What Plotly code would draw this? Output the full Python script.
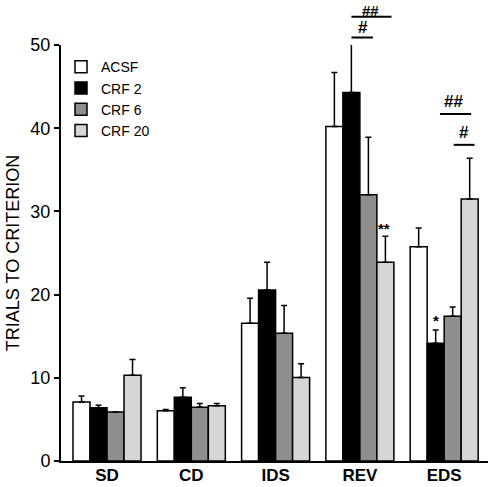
import plotly.graph_objects as go

categories = ["SD", "CD", "IDS", "REV", "EDS"]
series_names = ["ACSF", "CRF 2", "CRF 6", "CRF 20"]
acsf = [7.1, 6.05, 16.55, 40.2, 25.75]
acsf_err = [0.7, 0.15, 3.0, 6.5, 2.25]
crf2 = [6.4, 7.65, 20.55, 44.3, 14.15]
crf2_err = [0.3, 1.15, 3.35, 5.8, 1.6]
crf6 = [5.9, 6.45, 15.35, 32.0, 17.4]
crf6_err = [0.0, 0.45, 3.35, 6.9, 1.1]
crf20 = [10.3, 6.65, 10.05, 23.9, 31.5]
crf20_err = [1.9, 0.25, 1.65, 3.1, 4.9]
colors = ["#ffffff", "#000000", "#8e8e8e", "#d6d6d6"]

values = [acsf, crf2, crf6, crf20]
errors = [acsf_err, crf2_err, crf6_err, crf20_err]

# significance markers: (x0, x1 in category units, y in data units)
sig_lines = [
    (2.9, 3.375, 53.4),
    (2.9, 3.155, 50.9),
    (3.95, 4.32, 41.7),
    (4.113, 4.36, 38.0),
]
# (label, x, y, font size, y anchor)
sig_texts = [
    ("##", 3.125, 55.35, 15, "top"),
    ("#", 3.04, 52.1, 17, "middle"),
    ("##", 4.105, 43.2, 17, "middle"),
    ("#", 4.23, 39.5, 17, "middle"),
    ("**", 3.285, 27.9, 15, "middle"),
    ("*", 3.9, 16.9, 15, "middle"),
]

XMIN, XMAX = -0.546, 4.52
YMAX = 50

fig = go.Figure()
for name, v, e, c in zip(series_names, values, errors, colors):
    fig.add_trace(go.Bar(
        x=list(range(len(categories))), y=v, name=name,
        marker=dict(color=c, line=dict(color="black", width=1.5)),
        error_y=dict(type="data", array=e, arrayminus=[0] * len(e), symmetric=False,
                     color="black", thickness=1.5, width=3),
    ))

def px_(x):
    return (x - XMIN) / (XMAX - XMIN)

for x0, x1, y in sig_lines:
    fig.add_shape(type="line", xref="paper", yref="paper",
                  x0=px_(x0), x1=px_(x1), y0=y / YMAX, y1=y / YMAX,
                  line=dict(color="black", width=2))
for t, x, y, fs, ya in sig_texts:
    fig.add_annotation(text="<b>%s</b>" % t, xref="paper", yref="paper", x=px_(x), y=y / YMAX,
                       showarrow=False, xanchor="center", yanchor=ya,
                       font=dict(family="Arial", size=fs, color="black"))

fig.update_layout(
    width=490, height=487,
    margin=dict(l=61, r=2, t=45, b=26),
    paper_bgcolor="white", plot_bgcolor="white",
    barmode="group", bargap=0.193, bargroupgap=0,
    font=dict(family="Arial", color="black"),
    showlegend=True,
    legend=dict(x=0.0, y=0.985, xanchor="left", yanchor="top",
                bgcolor="rgba(0,0,0,0)", font=dict(size=14, family="Arial", color="black"),
                tracegroupgap=0, traceorder="normal"),
    xaxis=dict(range=[XMIN, XMAX], tickmode="array", tickvals=list(range(len(categories))),
               ticktext=["<b>%s</b>" % c for c in categories],
               tickfont=dict(size=17, family="Arial", color="black"),
               ticklabelstandoff=-2,
               showline=True, linecolor="black", linewidth=2, ticks="",
               showgrid=False, zeroline=False, automargin=False),
    yaxis=dict(range=[0, YMAX], tickvals=[0, 10, 20, 30, 40, 50],
               tickfont=dict(size=18, family="Arial", color="black"),
               ticks="outside", ticklen=5, tickwidth=1.5, tickcolor="black",
               showline=True, linecolor="black", linewidth=2,
               showgrid=False, zeroline=False, automargin=False,
               title=dict(text="TRIALS TO CRITERION", font=dict(size=18, family="Arial", color="black"),
                          standoff=6)),
)

fig.write_html("out.html", config={"displayModeBar": False},
               post_script="document.body.style.margin='0';document.body.style.overflow='hidden';")
